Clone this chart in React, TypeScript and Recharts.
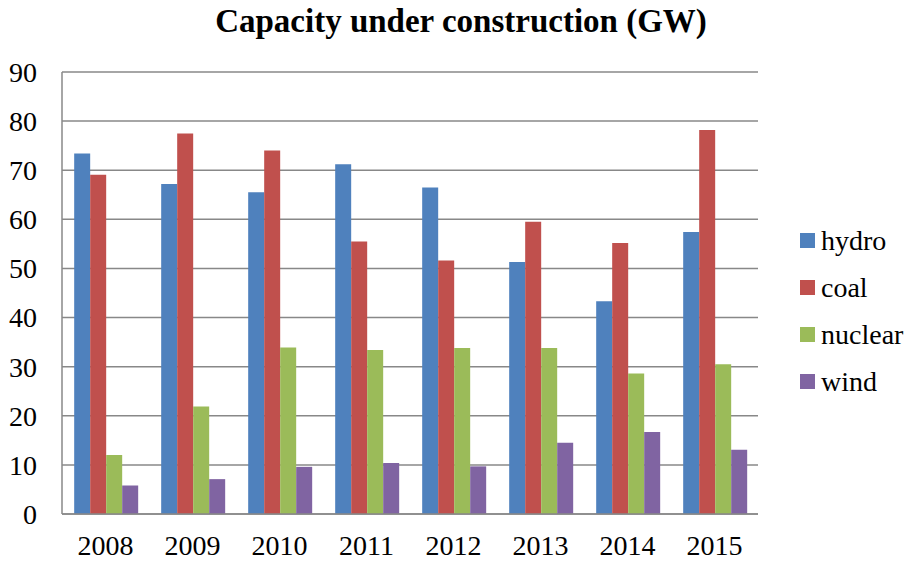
import React from 'react';
import { BarChart, Bar, XAxis, YAxis, CartesianGrid, Legend } from 'recharts';

// values (GW)
const years = ['2008', '2009', '2010', '2011', '2012', '2013', '2014', '2015'];
const hydro = [73.4, 67.2, 65.5, 71.2, 66.5, 51.3, 43.3, 57.4];
const coal = [69.1, 77.5, 74.0, 55.5, 51.6, 59.5, 55.2, 78.2];
const nuclear = [12.0, 21.9, 33.9, 33.4, 33.8, 33.8, 28.6, 30.5];
const wind = [5.8, 7.1, 9.6, 10.4, 9.7, 14.5, 16.7, 13.1];
const yTicks = [0, 10, 20, 30, 40, 50, 60, 70, 80, 90];

const SERIES = [
  { key: 'hydro', color: '#4F81BD' },
  { key: 'coal', color: '#C0504D' },
  { key: 'nuclear', color: '#9BBB59' },
  { key: 'wind', color: '#8064A2' },
];

const data = years.map((year, i) => ({
  year,
  hydro: hydro[i],
  coal: coal[i],
  nuclear: nuclear[i],
  wind: wind[i],
}));

const FONT = '"Liberation Serif", "Times New Roman", serif';

const LegendList = () => (
  <div style={{ fontFamily: FONT, fontSize: 28, color: '#000' }}>
    {SERIES.map((s) => (
      <div key={s.key} style={{ display: 'flex', alignItems: 'center', height: 47 }}>
        <span style={{ width: 15, height: 15, background: s.color, marginRight: 6, display: 'inline-block' }} />
        <span>{s.key}</span>
      </div>
    ))}
  </div>
);

export default function App() {
  return (
    <div style={{ position: 'absolute', left: 0, top: 0, width: 910, height: 562, background: '#fff' }}>
      <div
        style={{
          position: 'absolute',
          left: 0,
          top: 3,
          width: 922,
          textAlign: 'center',
          fontFamily: FONT,
          fontWeight: 'bold',
          fontSize: 33,
        }}
      >
        Capacity under construction (GW)
      </div>
      <BarChart
        width={910}
        height={562}
        data={data}
        margin={{ top: 72, right: 152, left: 0, bottom: 0 }}
        barCategoryGap="14%"
        barGap={0}
      >
        <CartesianGrid vertical={false} stroke="#888" strokeWidth={1.5} />
        <XAxis
          dataKey="year"
          height={48}
          tickLine={false}
          axisLine={{ stroke: '#888', strokeWidth: 1.5 }}
          tickSize={0}
          tickMargin={21}
          tick={{ fill: '#000', fontFamily: FONT, fontSize: 28 }}
        />
        <YAxis
          width={62}
          domain={[0, 90]}
          ticks={yTicks}
          interval={0}
          tickLine={false}
          axisLine={{ stroke: '#888', strokeWidth: 1.5 }}
          tickSize={0}
          tickMargin={25}
          tick={{ fill: '#000', fontFamily: FONT, fontSize: 28 }}
        />
        <Legend
          layout="horizontal"
          verticalAlign="middle"
          align="center"
          content={() => <LegendList />}
          wrapperStyle={{ left: 800, top: 217, width: 110 }}
        />
        {SERIES.map((s) => (
          <Bar key={s.key} dataKey={s.key} fill={s.color} isAnimationActive={false} />
        ))}
      </BarChart>
    </div>
  );
}
